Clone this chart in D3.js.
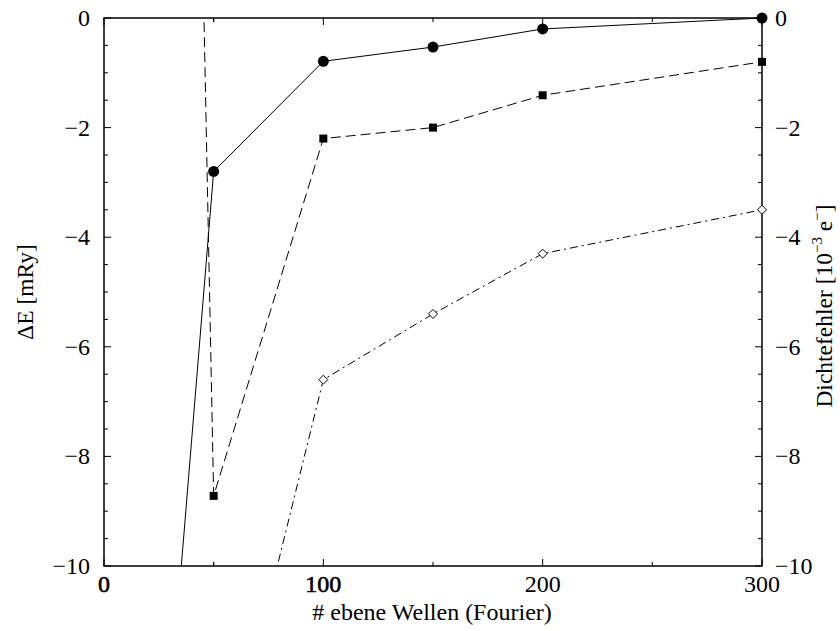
<!DOCTYPE html>
<html><head><meta charset="utf-8">
<script src="https://cdn.jsdelivr.net/npm/d3@7"></script>
<style>
body{margin:0;background:#fff;}
text{font-family:"Liberation Serif","Times New Roman",serif;fill:#000;}
</style></head>
<body><svg id="c" width="840" height="631"></svg>
<script>
// ---- data ----
const circleX = [25, 50, 100, 150, 200, 300];
const circleY = [-15, -2.8, -0.79, -0.53, -0.2, 0];
const squareX = [25, 50, 100, 150, 200, 300];
const squareY = [40.7, -8.72, -2.2, -2.0, -1.41, -0.8];
const diamondX = [50, 100, 150, 200, 300];
const diamondY = [-14.7, -6.6, -5.4, -4.3, -3.5];
const xTicks = [0, 100, 200, 300];
const xMinorTicks = [50, 150, 250];
const yTicks = [0, -2, -4, -6, -8, -10];
const yMinorTicks = [-0.5,-1,-1.5,-2.5,-3,-3.5,-4.5,-5,-5.5,-6.5,-7,-7.5,-8.5,-9,-9.5];
const xLabel = "# ebene Wellen (Fourier)";

const svg = d3.select("#c");
const L = 104, R = 762, T = 18, B = 566;
const x = d3.scaleLinear().domain([0, 300]).range([L, R]);
const y = d3.scaleLinear().domain([-10, 0]).range([B, T]);
const fmt = d => d < 0 ? "\u2212" + Math.abs(d) : String(d);

svg.append("defs").append("clipPath").attr("id","clip")
  .append("rect").attr("x",L).attr("y",T).attr("width",R-L).attr("height",B-T);

const g = svg.append("g").attr("clip-path","url(#clip)");
const line = (xs, ys) => d3.line().x((d,i)=>x(xs[i])).y((d,i)=>y(ys[i]))(xs);

g.append("path").attr("d", line(circleX, circleY)).attr("fill","none")
  .attr("stroke","#000").attr("stroke-width",1);
g.append("path").attr("d", line(squareX, squareY)).attr("fill","none")
  .attr("stroke","#000").attr("stroke-width",1).attr("stroke-dasharray","10,5");
g.append("path").attr("d", line(diamondX, diamondY)).attr("fill","none")
  .attr("stroke","#000").attr("stroke-width",1).attr("stroke-dasharray","8,4,2,4");

// axes (ticks inward)
const ax = svg.append("g").attr("fill","none").attr("stroke","#000");
ax.append("rect").attr("x",L).attr("y",T).attr("width",R-L).attr("height",B-T).attr("stroke-width",1.5);
xTicks.forEach(v=>{
  ax.append("line").attr("x1",x(v)).attr("x2",x(v)).attr("y1",B).attr("y2",B-7);
  ax.append("line").attr("x1",x(v)).attr("x2",x(v)).attr("y1",T).attr("y2",T+7);
});
xMinorTicks.concat([50]).forEach(v=>{
  ax.append("line").attr("x1",x(v)).attr("x2",x(v)).attr("y1",B).attr("y2",B-4);
  ax.append("line").attr("x1",x(v)).attr("x2",x(v)).attr("y1",T).attr("y2",T+4);
});
yTicks.forEach(v=>{
  ax.append("line").attr("x1",L).attr("x2",L+7).attr("y1",y(v)).attr("y2",y(v));
  ax.append("line").attr("x1",R).attr("x2",R-7).attr("y1",y(v)).attr("y2",y(v));
});
yMinorTicks.forEach(v=>{
  ax.append("line").attr("x1",L).attr("x2",L+4).attr("y1",y(v)).attr("y2",y(v));
  ax.append("line").attr("x1",R).attr("x2",R-4).attr("y1",y(v)).attr("y2",y(v));
});

// markers (unclipped, only in-range points)
const inR = v => v >= -10 && v <= 0;
const m = svg.append("g");
circleX.forEach((d,i)=>{ if(inR(circleY[i])) m.append("circle")
  .attr("cx",x(d)).attr("cy",y(circleY[i])).attr("r",5.5).attr("fill","#000"); });
squareX.forEach((d,i)=>{ if(inR(squareY[i])) m.append("rect")
  .attr("x",x(d)-4).attr("y",y(squareY[i])-4).attr("width",8).attr("height",8).attr("fill","#000"); });
diamondX.forEach((d,i)=>{ if(inR(diamondY[i])) { const cx=x(d), cy=y(diamondY[i]), s=4.5;
  m.append("path").attr("d",`M${cx},${cy-s}L${cx+s},${cy}L${cx},${cy+s}L${cx-s},${cy}Z`)
   .attr("fill","#fff").attr("stroke","#000").attr("stroke-width",1); } });

// tick labels
const fs = 24;
svg.selectAll("text.xt").data(xTicks).enter().append("text")
  .attr("x",d=>x(d)).attr("y",B+26).attr("text-anchor","middle").attr("font-size",fs)
  .attr("stroke",d=>d<=100?"#000":"none").attr("stroke-width",0.6).text(fmt);
svg.selectAll("text.yl").data(yTicks).enter().append("text")
  .attr("x",L-14).attr("y",d=>y(d)+8).attr("text-anchor","end").attr("font-size",fs).text(fmt);
svg.selectAll("text.yr").data(yTicks).enter().append("text")
  .attr("x",R+13).attr("y",d=>y(d)+8).attr("text-anchor","start").attr("font-size",fs).text(fmt);

// axis titles
svg.append("text").attr("x",432).attr("y",620).attr("text-anchor","middle").attr("font-size",24).text(xLabel);
svg.append("text").attr("transform","translate(33,292) rotate(-90)").attr("text-anchor","middle")
  .attr("font-size",23.5).text("\u0394E [mRy]");
const rt = svg.append("text").attr("transform","translate(832,306) rotate(-90)").attr("text-anchor","middle")
  .attr("font-size",23.5);
rt.append("tspan").text("Dichtefehler [10");
rt.append("tspan").attr("dy",-10).attr("font-size",15).text("\u22123");
rt.append("tspan").attr("dy",10).text(" e");
rt.append("tspan").attr("dy",-10).attr("font-size",15).text("\u2212");
rt.append("tspan").attr("dy",10).text("]");
</script></body></html>
